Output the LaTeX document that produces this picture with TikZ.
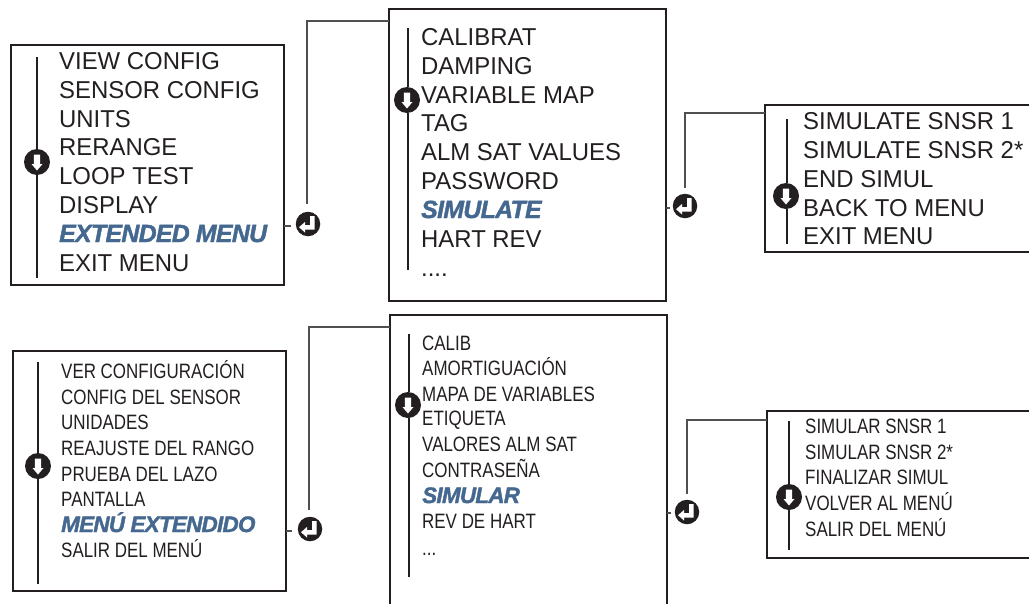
\documentclass[tikz,border=0pt]{standalone}
\usepackage{fontspec}
\setmainfont{Liberation Sans}
\newfontfamily\enfont[FakeStretch=0.98]{Liberation Sans}
\newfontfamily\condfont[FakeStretch=0.815]{Liberation Sans}
\newfontfamily\hlfont[FakeBold=1.6,LetterSpace=-2.6]{Liberation Sans}
\newfontfamily\hlcond[FakeBold=1.6,LetterSpace=-3.2]{Liberation Sans}
\definecolor{ink}{HTML}{231F20}
\definecolor{hl}{HTML}{44688F}
\definecolor{wire}{HTML}{505050}
\tikzset{
  menubox/.style={draw=ink,line width=2.4pt,fill=white,rectangle,inner sep=0pt,outer sep=0pt,anchor=north west},
  scrollline/.style={draw=ink,line width=1.5pt},
  wireline/.style={draw=wire,line width=1.1pt},
  iconbg/.style={circle,fill=ink,draw=none,inner sep=0pt,outer sep=0pt},
  enline/.style={anchor=base west,inner sep=0pt,text=ink,font=\enfont\fontsize{24.4}{24.4}\selectfont},
  esline/.style={anchor=base west,inner sep=0pt,text=ink,font=\condfont\fontsize{20.8}{20.8}\selectfont},
  enhl/.style={anchor=base west,inner sep=0pt,text=hl,font=\hlfont\bfseries\itshape\fontsize{24.8}{24.8}\selectfont},
  eshl/.style={anchor=base west,inner sep=0pt,text=hl,font=\hlcond\bfseries\itshape\fontsize{22.4}{22.4}\selectfont},
}
\newcommand{\downicon}[2]{%
  \node[iconbg,minimum size=26pt] (#1) at (#2) {};
  \fill[white] ([shift={(-3.2,-7.5)}]#1.center) -- ++(6.4,0) -- ++(0,9.5) -- ++(2.3,0) -- ++(-5.5,6.5) -- ++(-5.5,-6.5) -- ++(2.3,0) -- cycle;
}
\newcommand{\entericon}[2]{%
  \node[iconbg,minimum size=24.5pt] (#1) at (#2) {};
  \fill[white] ([shift={(2,-8)}]#1.center) -- ++(4.5,0) -- ++(0,13.5) -- ++(-9.5,0) -- ++(0,3) -- ++(-6,-5.3) -- ++(6,-5.2) -- ++(0,3) -- ++(5,0) -- cycle;
}
\begin{document}
\begin{tikzpicture}[x=1pt,y=-1pt]
\useasboundingbox (0,0) rectangle (1029,603);
\clip (0,0) rectangle (1029,603);
% boxes
\node[menubox,minimum width=273pt,minimum height=240pt] (b1) at (11,45) {};
\node[menubox,minimum width=277pt,minimum height=292pt] (b2) at (389,9) {};
\node[menubox,minimum width=280pt,minimum height=147pt] (b3) at (765,105) {};
\node[menubox,minimum width=273pt,minimum height=240pt] (b4) at (13,351) {};
\node[menubox,minimum width=277pt,minimum height=300pt] (b5) at (390,315) {};
\node[menubox,minimum width=280pt,minimum height=147pt] (b6) at (767,411) {};
% scroll icons and lines
\downicon{d1}{37,162}
\downicon{d2}{407,100}
\downicon{d3}{786,196}
\downicon{d4}{38,466}
\downicon{d5}{408,405}
\downicon{d6}{789,497}
\coordinate (s1a) at (37,57);  \coordinate (s1b) at (37,278);
\coordinate (s2a) at (408,28); \coordinate (s2b) at (408,270);
\coordinate (s3a) at (787,119); \coordinate (s3b) at (787,244);
\coordinate (s4a) at (38,362); \coordinate (s4b) at (38,584);
\coordinate (s5a) at (409,334); \coordinate (s5b) at (409,577);
\coordinate (s6a) at (789,421); \coordinate (s6b) at (789,550);
\foreach \i in {1,...,6} {
  \draw[scrollline] (s\i a) -- (s\i a |- d\i.north);
  \draw[scrollline] (s\i b |- d\i.south) -- (s\i b);
}
% enter icons and wires
\entericon{e1}{308,224}
\entericon{e2}{685,206}
\entericon{e3}{310,529}
\entericon{e4}{687,512}
\coordinate (w1a) at (307,21); \coordinate (w1b) at (307,204);
\coordinate (w2a) at (685,113); \coordinate (w2b) at (685,188);
\coordinate (w3a) at (309,327); \coordinate (w3b) at (309,510);
\coordinate (w4a) at (687,420); \coordinate (w4b) at (687,494);
\draw[wireline] (b2.west |- w1a) -- (w1a) -- (w1b);
\draw[wireline] (b3.west |- w2a) -- (w2a) -- (w2b);
\draw[wireline] (b5.west |- w3a) -- (w3a) -- (w3b);
\draw[wireline] (b6.west |- w4a) -- (w4a) -- (w4b);
\coordinate (k1) at (291,226); \coordinate (k2) at (670,208);
\coordinate (k3) at (292,531); \coordinate (k4) at (671,513);
\draw[wireline] (b1.east |- k1) -- (k1);
\draw[wireline] (b2.east |- k2) -- (k2);
\draw[wireline] (b4.east |- k3) -- (k3);
\draw[wireline] (b5.east |- k4) -- (k4);
% texts, box 1
\node[enline] (a1) at (59,69) {VIEW CONFIG};
\node[enline] (a2) at (59,98) {SENSOR CONFIG};
\node[enline] (a3) at (59,127) {UNITS};
\node[enline] (a4) at (59,155) {RERANGE};
\node[enline] (a5) at (59,184) {LOOP TEST};
\node[enline] (a6) at (59,213) {DISPLAY};
\node[enhl] (a7) at (59,242) {EXTENDED MENU};
\node[enline] (a8) at (59,271) {EXIT MENU};
% box 2
\node[enline] (c1) at (421,45) {CALIBRAT};
\node[enline] (c2) at (421,74) {DAMPING};
\node[enline] (c3) at (421,103) {VARIABLE MAP};
\node[enline] (c4) at (421,131) {TAG};
\node[enline] (c5) at (421,160) {ALM SAT VALUES};
\node[enline] (c6) at (421,189) {PASSWORD};
\node[enhl] (c7) at (421,218) {SIMULATE};
\node[enline] (c8) at (421,247) {HART REV};
\node[enline] (c9) at (421,276) {....};
% box 3
\node[enline] (f1) at (803,129) {SIMULATE SNSR 1};
\node[enline] (f2) at (803,158) {SIMULATE SNSR 2*};
\node[enline] (f3) at (803,187) {END SIMUL};
\node[enline] (f4) at (803,216) {BACK TO MENU};
\node[enline] (f5) at (803,244) {EXIT MENU};
% box 4
\node[esline] (g1) at (61,378) {VER CONFIGURACIÓN};
\node[esline] (g2) at (61,404) {CONFIG DEL SENSOR};
\node[esline] (g3) at (61,429) {UNIDADES};
\node[esline] (g4) at (61,455) {REAJUSTE DEL RANGO};
\node[esline] (g5) at (61,481) {PRUEBA DEL LAZO};
\node[esline] (g6) at (61,506) {PANTALLA};
\node[eshl] (g7) at (61,532) {MENÚ EXTENDIDO};
\node[esline] (g8) at (61,557) {SALIR DEL MENÚ};
% box 5
\node[esline] (h1) at (422,350) {CALIB};
\node[esline] (h2) at (422,375) {AMORTIGUACIÓN};
\node[esline] (h3) at (422,401) {MAPA DE VARIABLES};
\node[esline] (h4) at (422,425) {ETIQUETA};
\node[esline] (h5) at (422,451) {VALORES ALM SAT};
\node[esline] (h6) at (422,477) {CONTRASEÑA};
\node[eshl] (h7) at (422,503) {SIMULAR};
\node[esline] (h8) at (422,528) {REV DE HART};
\node[esline] (h9) at (422,555) {...};
% box 6
\node[esline] (j1) at (805,433) {SIMULAR SNSR 1};
\node[esline] (j2) at (805,459) {SIMULAR SNSR 2*};
\node[esline] (j3) at (805,484) {FINALIZAR SIMUL};
\node[esline] (j4) at (805,510) {VOLVER AL MENÚ};
\node[esline] (j5) at (805,536) {SALIR DEL MENÚ};
\end{tikzpicture}
\end{document}
